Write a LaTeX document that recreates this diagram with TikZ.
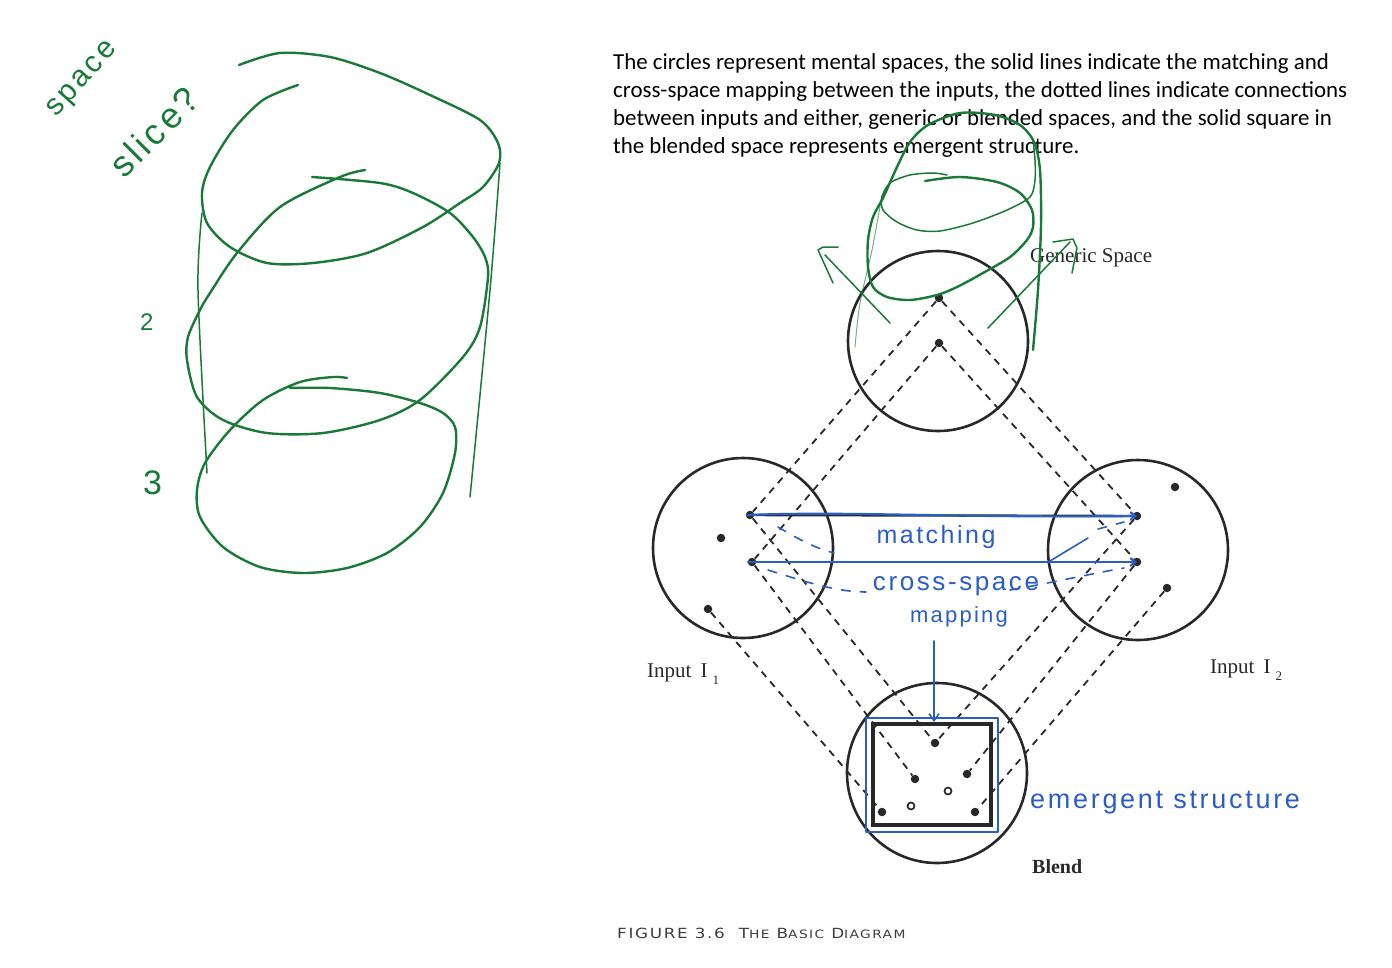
\documentclass[tikz,border=0pt]{standalone}
\usepackage{fontspec}
\usepackage{xcolor}
\usepackage{tikz}
\usetikzlibrary{arrows.meta,positioning,calc}
\setmainfont{Liberation Serif}
\newfontfamily\notefont{Carlito}
\newfontfamily\handfont[LetterSpace=10]{Liberation Sans}
\newfontfamily\capfont[FakeStretch=1.2,LetterSpace=12]{DejaVu Sans}
\definecolor{ink}{RGB}{40,40,40}
\definecolor{penblue}{RGB}{42,94,196}
\definecolor{markgreen}{RGB}{24,122,54}

\begin{document}
\begin{tikzpicture}[x=1pt, y=-1pt,
    mental/.style={circle, draw=ink, line width=2.6pt, minimum size=180pt, inner sep=0pt},
    dot/.style={circle, fill=ink, inner sep=0pt, minimum size=8.5pt},
    hollow/.style={circle, draw=ink, fill=white, line width=1.7pt, inner sep=0pt, minimum size=7pt},
    link/.style={ink, line width=1.8pt, dash pattern=on 7pt off 6pt},
    matchline/.style={ink, line width=2.4pt},
    tag/.style={text=ink, font=\fontsize{21}{24}\selectfont, anchor=base west, inner sep=0pt},
    noteline/.style={font=\notefont\fontsize{22.9}{26}\selectfont, anchor=base west, inner sep=0pt},
    pen/.style={penblue, line width=2.2pt, line cap=round, line join=round},
    pendash/.style={penblue, line width=1.6pt, line cap=round, dash pattern=on 9pt off 10pt},
    hand/.style={text=penblue, font=\handfont\fontsize{25}{28}\selectfont, anchor=base, inner sep=0pt},
    greenline/.style={markgreen, line width=2.4pt, line cap=round, line join=round},
    greenthin/.style={markgreen, line width=1.5pt, line cap=round, line join=round},
    greenhand/.style={text=markgreen, font=\handfont\fontsize{30}{34}\selectfont, anchor=base west, inner sep=0pt}
]
    \useasboundingbox (0,0) rectangle (1392,967);

    % explanatory note
    \node[noteline] (note1) at (613,69) {The circles represent mental spaces, the solid lines indicate the matching and};
    \node[noteline] (note2) at (613,97) {cross-space mapping between the inputs, the dotted lines indicate connections};
    \node[noteline] (note3) at (613,125) {between inputs and either, generic or blended spaces, and the solid square in};
    \node[noteline] (note4) at (613,153) {the blended space represents emergent structure.};

    % the four spaces
    \node[mental] (generic) at (938,341) {};
    \node[mental] (input1) at (743,548) {};
    \node[mental] (input2) at (1138,550) {};
    \node[mental] (blend) at (937,773) {};

    % elements
    \node[dot] (g1) at (939,298) {};
    \node[dot] (g2) at (939,343) {};
    \node[dot] (a1) at (750,515) {};
    \node[dot] (a0) at (721,538) {};
    \node[dot] (a2) at (752,562) {};
    \node[dot] (a3) at (708,609) {};
    \node[dot] (b0) at (1175,487) {};
    \node[dot] (b1) at (1137,516) {};
    \node[dot] (b2) at (1137,562) {};
    \node[dot] (b3) at (1167,588) {};
    \node[dot] (c1) at (935,743) {};
    \node[dot] (c2) at (915,779) {};
    \node[dot] (c3) at (967,774) {};
    \node[hollow] (c4) at (948,791) {};
    \node[dot] (c5) at (882,812) {};
    \node[hollow] (c6) at (911,806) {};
    \node[dot] (c7) at (975,812) {};

    % connections to generic and blended spaces
    \foreach \from/\to in {g1/a1, g2/a2, g1/b1, g2/b2, a1/c1, a2/c2, a3/c5, b1/c1, b2/c3, b3/c7}
        \draw[link] (\from) -- (\to);

    % matching between the inputs
    \draw[matchline] (a1) -- (b1);
    \draw[matchline] (a2) -- (b2);

    % emergent structure
    \node[draw=ink, line width=4pt, minimum width=118pt, minimum height=101pt, inner sep=0pt] (square) at (932,774.5) {};

    % labels
    \node[tag] (lgeneric) at (1030,262) {Generic Space};
    \node[tag] (linput1) at (647,677) {Input\hspace{9pt}I\hspace{5pt}\raisebox{-7pt}{\fontsize{13}{13}\selectfont 1}};
    \node[tag] (linput2) at (1210,673) {Input\hspace{9pt}I\hspace{5pt}\raisebox{-7pt}{\fontsize{13}{13}\selectfont 2}};
    \node[tag, font=\fontsize{20}{24}\selectfont\bfseries] (lblend) at (1032,873) {Blend};
    \node[anchor=base west, inner sep=0pt, text=ink!90] (caption) at (617,938)
        {\capfont\fontsize{14}{16}\selectfont FIGURE 3.6\hspace{14pt}T{\fontsize{11.5}{16}\selectfont HE} B{\fontsize{11.5}{16}\selectfont ASIC} D{\fontsize{11.5}{16}\selectfont IAGRAM}};

    % blue annotations
    \draw[pen, -{Straight Barb[length=5pt,width=8pt]}] ([xshift=-3pt]a1.center) .. controls (850,511) and (950,518) .. (b1.center);
    \draw[pen, -{Straight Barb[length=5pt,width=8pt]}] ([xshift=-4pt]a2.center) -- (b2.center);
    \draw[pendash] (778,527) .. controls (800,540) and (815,548) .. (834,553);
    \draw[pendash] (768,570) .. controls (800,580) and (835,592) .. (866,592);
    \draw[pendash] (1010,590) .. controls (1050,583) and (1090,574) .. (1124,568);
    \draw[pendash] (1098,529) -- (1124,522);
    \draw[pen, line width=1.6pt] (1050,561) -- (1088,538);
    \node[hand] (tmatch) at (936,543) {matching};
    \node[hand, font=\handfont\fontsize{26}{28}\selectfont] (tcross) at (956,590) {cross-space};
    \node[hand, font=\handfont\fontsize{22}{28}\selectfont] (tmap) at (959,622) {mapping};
    \coordinate (mapfoot) at (934,641);
    \draw[pen, line width=1.6pt, -{Straight Barb[length=7pt,width=10pt]}] (mapfoot) -- (square.north -| mapfoot);
    \draw[pen, line width=1.8pt] ([shift={(-5,-4)}]square.north west) rectangle ([shift={(5,5)}]square.south east);
    \node[hand, anchor=base west, font=\handfont\fontsize{27}{30}\selectfont] (temerge) at (1030,808) {emergent structure};

    % green sketch on the left
    \draw[greenline] plot[smooth] coordinates {(239,65) (280,53) (330,57) (380,73) (430,95) (480,120) (498,143) (499,163) (483,187) (460,203) (423,227) (367,253) (313,263) (267,263) (230,247) (207,223) (202,193) (210,167) (233,130) (263,100) (298,85)};
    \draw[greenline] plot[smooth] coordinates {(365,170) (340,177) (280,207) (237,253) (210,293) (200,310) (188,337) (187,360) (197,397) (223,420) (267,433) (323,433) (380,420) (420,400) (463,357) (480,327) (488,277) (485,257) (473,237) (450,213) (413,193) (380,183) (312,177)};
    \draw[greenline] plot[smooth] coordinates {(347,378) (333,377) (300,382) (263,400) (230,430) (205,463) (197,490) (200,517) (223,547) (260,567) (303,573) (347,568) (387,553) (420,527) (443,493) (455,453) (455,427) (443,413) (420,403) (380,393) (330,388) (290,388)};
    \draw[greenthin] plot[smooth] coordinates {(202,213) (198,290) (207,473)};
    \draw[greenthin] plot[smooth] coordinates {(500,163) (490,290) (470,497)};
    \node[greenhand, rotate=48] (tspace) at (56,118) {space};
    \node[greenhand, rotate=45, font=\handfont\fontsize{36}{40}\selectfont] (tslice) at (124,180) {slice?};
    \node[greenhand, font=\handfont\fontsize{24}{26}\selectfont] (ttwo) at (140,330) {2};
    \node[greenhand, font=\handfont\fontsize{34}{36}\selectfont] (tthree) at (143,494) {3};

    % green sketch over the generic space
    \draw[greenline] plot[smooth] coordinates {(925,181) (960,177) (997,182) (1020,193) (1032,210) (1033,227) (1027,240) (1010,257) (983,273) (957,287) (937,295) (910,300) (887,297) (873,287) (868,267) (868,240) (873,217) (883,198) (897,167) (910,142) (928,125) (960,113) (995,115) (1020,125) (1034,142) (1040,170) (1041,225) (1038,290) (1033,350)};
    \draw[greenthin] plot[smooth] coordinates {(947,175) (933,173) (910,175) (890,183) (882,197) (883,210) (897,222) (917,230) (940,231) (973,223) (1007,210) (1030,197) (1035,180) (1035,160) (1033,140)};
    \draw[greenthin, opacity=0.6, line width=1pt] plot[smooth] coordinates {(882,195) (872,250) (860,303) (855,347)};
    \draw[greenthin] (833,283) -- (818,250) -- (823,247) -- (838,247);
    \draw[greenthin] (825,255) -- (890,323);
    \draw[greenthin] (988,328) -- (1070,242);
    \draw[greenthin] (1053,242) -- (1073,239) -- (1077,248) -- (1072,273);
\end{tikzpicture}
\end{document}
